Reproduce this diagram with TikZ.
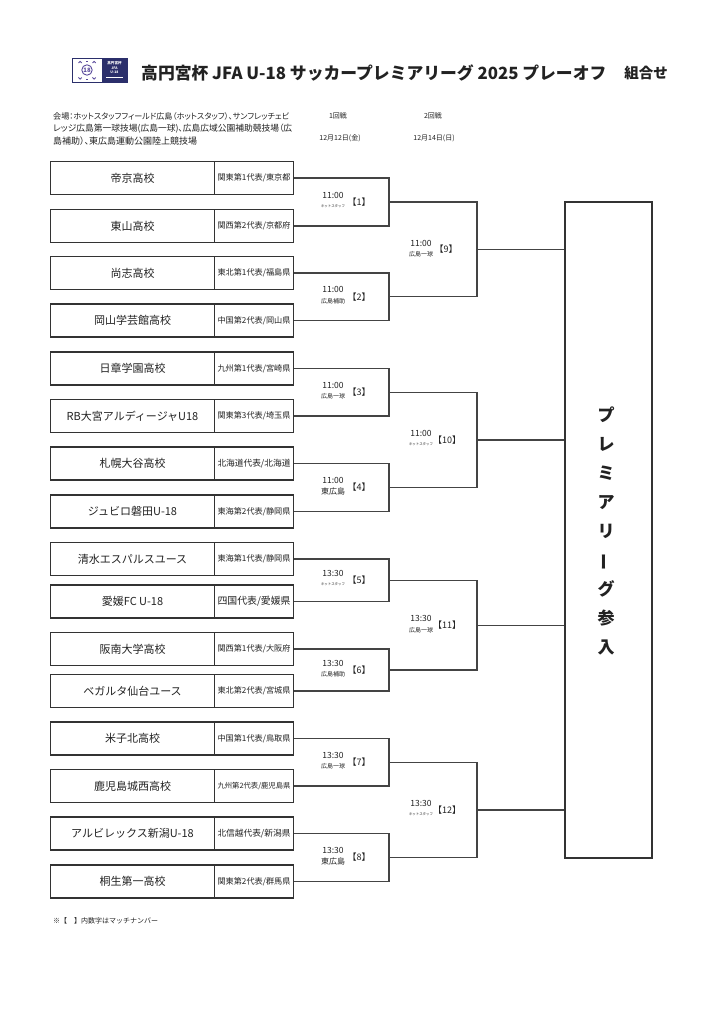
\documentclass[tikz,border=0pt]{standalone}
\usepackage{fontspec}
\setmainfont{Noto Sans CJK JP}
\newfontfamily\jpp[RawFeature=+palt]{Noto Sans CJK JP}
\definecolor{boxc}{HTML}{333333}
\definecolor{linec}{HTML}{444444}
\definecolor{txt}{HTML}{222222}
\definecolor{navy}{HTML}{2B2F6B}
\definecolor{purp}{HTML}{5A4A9C}
\newcommand{\subtxt}[1]{\resizebox{73pt}{!}{\fontsize{8}{8}\selectfont #1}}
\newcommand{\venue}[1]{\resizebox{24pt}{!}{\fontsize{6}{6}\selectfont #1}}
\begin{document}
\begin{tikzpicture}[x=1pt,y=-1pt,
 teambox/.style={draw=boxc, line width=1.3pt, minimum width=164pt, minimum height=33pt, inner sep=0pt, font=\fontsize{11}{12}\selectfont, text=txt},
 subbox/.style={draw=boxc, line width=1.3pt, minimum width=79pt, minimum height=33pt, inner sep=0pt, text=txt},
 bline/.style={draw=linec, line width=1.2pt},
 timelbl/.style={font=\fontsize{8.5}{9}\selectfont, text=txt, inner sep=0pt},
 venuelbl/.style={inner sep=0pt, text=txt},
 matchlbl/.style={font=\fontsize{9}{10}\selectfont, text=txt, inner sep=0pt},
 small/.style={font=\fontsize{7}{8}\selectfont, text=txt, inner sep=0pt},
]
\useasboundingbox[fill=white] (0,0) rectangle (724,1024);

% ---- logo ----
\draw[navy, line width=0.8pt, fill=white] (72,58) rectangle (127,82);
\fill[navy] (102,58) rectangle (127,82);
\draw[purp, line width=0.9pt] (87,70) circle (5.2);
\node[text=purp, font=\fontsize{6}{6}\selectfont\bfseries, inner sep=0pt] (l18) at (87,70.3) {18};
\draw[purp, line width=0.9pt] (78.5,63) arc (180:360:1.6) (92.5,63) arc (180:360:1.6);
\draw[purp, line width=0.9pt] (78.5,77.5) arc (180:0:1.6) (92.5,77.5) arc (180:0:1.6);
\draw[purp, line width=0.9pt] (86,61) -- (88,61) (86,79.5) -- (88,79.5);
\node[text=white, font=\fontsize{3.6}{4}\selectfont\bfseries, inner sep=0pt] (lg1) at (114.5,63.5) {高円宮杯};
\node[text=white, font=\fontsize{3.4}{4}\selectfont\bfseries, inner sep=0pt] (lg2) at (114.5,68.5) {JFA};
\node[text=white, font=\fontsize{3.4}{4}\selectfont\bfseries, inner sep=0pt] (lg3) at (114.5,72.5) {U-18};
\draw[white, line width=0.5pt] (106,77.5) -- (123,77.5);

% ---- title ----
\node[anchor=west, font=\fontsize{16.8}{18}\selectfont\bfseries, text=txt, inner sep=0pt] (title) at (141,73) {高円宮杯 JFA U-18 サッカープレミアリーグ 2025 プレーオフ};
\node[anchor=east, font=\fontsize{14.5}{16}\selectfont\bfseries, text=txt, inner sep=0pt] (kumi) at (668,73) {組合せ};

% ---- venue text ----
\node[anchor=west, inner sep=0pt, text=txt] (v1) at (53,116) {\resizebox{236pt}{!}{\jpp\fontsize{8}{8}\selectfont 会場：ホットスタッフフィールド広島（ホットスタッフ）、サンフレッチェビ}};
\node[anchor=west, inner sep=0pt, text=txt] (v2) at (53,129) {\resizebox{239pt}{!}{\jpp\fontsize{8}{8}\selectfont レッジ広島第一球技場(広島一球)、広島広域公園補助競技場（広}};
\node[anchor=west, inner sep=0pt, text=txt] (v3) at (53,141) {\resizebox{144pt}{!}{\jpp\fontsize{8}{8}\selectfont 島補助）、東広島運動公園陸上競技場}};

\node[small] (r1) at (338,116) {1回戦};
\node[small] (d1) at (340,138) {12月12日(金)};
\node[small] (r2) at (433,116) {2回戦};
\node[small] (d2) at (434,138) {12月14日(日)};

% ---- teams ----
\node[teambox] (t1) at (132.5,178) {帝京高校};
\node[subbox] (s1) at (254,178) {\subtxt{関東第1代表/東京都}};
\node[teambox] (t2) at (132.5,226) {東山高校};
\node[subbox] (s2) at (254,226) {\subtxt{関西第2代表/京都府}};
\node[teambox] (t3) at (132.5,273) {尚志高校};
\node[subbox] (s3) at (254,273) {\subtxt{東北第1代表/福島県}};
\node[teambox] (t4) at (132.5,320.5) {岡山学芸館高校};
\node[subbox] (s4) at (254,320.5) {\subtxt{中国第2代表/岡山県}};
\node[teambox] (t5) at (132.5,368.5) {日章学園高校};
\node[subbox] (s5) at (254,368.5) {\subtxt{九州第1代表/宮崎県}};
\node[teambox] (t6) at (132.5,416) {RB大宮アルディージャU18};
\node[subbox] (s6) at (254,416) {\subtxt{関東第3代表/埼玉県}};
\node[teambox] (t7) at (132.5,463.5) {札幌大谷高校};
\node[subbox] (s7) at (254,463.5) {\subtxt{北海道代表/北海道}};
\node[teambox] (t8) at (132.5,511.5) {ジュビロ磐田U-18};
\node[subbox] (s8) at (254,511.5) {\subtxt{東海第2代表/静岡県}};
\node[teambox] (t9) at (132.5,559) {清水エスパルスユース};
\node[subbox] (s9) at (254,559) {\subtxt{東海第1代表/静岡県}};
\node[teambox] (t10) at (132.5,601.5) {愛媛FC U-18};
\node[subbox] (s10) at (254,601.5) {\subtxt{四国代表/愛媛県}};
\node[teambox] (t11) at (132.5,649) {阪南大学高校};
\node[subbox] (s11) at (254,649) {\subtxt{関西第1代表/大阪府}};
\node[teambox] (t12) at (132.5,691) {ベガルタ仙台ユース};
\node[subbox] (s12) at (254,691) {\subtxt{東北第2代表/宮城県}};
\node[teambox] (t13) at (132.5,738.5) {米子北高校};
\node[subbox] (s13) at (254,738.5) {\subtxt{中国第1代表/鳥取県}};
\node[teambox] (t14) at (132.5,786) {鹿児島城西高校};
\node[subbox] (s14) at (254,786) {\subtxt{九州第2代表/鹿児島県}};
\node[teambox] (t15) at (132.5,833.5) {アルビレックス新潟U-18};
\node[subbox] (s15) at (254,833.5) {\subtxt{北信越代表/新潟県}};
\node[teambox] (t16) at (132.5,881.5) {桐生第一高校};
\node[subbox] (s16) at (254,881.5) {\subtxt{関東第2代表/群馬県}};

% ---- final box ----
\node[draw=boxc, line width=1.3pt, minimum width=87pt, minimum height=656pt, inner sep=0pt] (final) at (608.5,530) {};
\node[font=\fontsize{17}{29}\selectfont\bfseries, align=center, text=txt, inner sep=0pt] (finaltxt) at (606,531) {プ\\レ\\ミ\\ア\\リ\\\rotatebox[origin=c]{90}{ー}\\グ\\参\\入};

% ---- bracket joints ----
\coordinate (m1) at (389,202);
\coordinate (m2) at (389,296.75);
\coordinate (m3) at (389,392.25);
\coordinate (m4) at (389,487.5);
\coordinate (m5) at (389,580.25);
\coordinate (m6) at (389,670);
\coordinate (m7) at (389,762.25);
\coordinate (m8) at (389,857.5);
\coordinate (m9) at (477,249.4);
\coordinate (m10) at (477,439.9);
\coordinate (m11) at (477,625.1);
\coordinate (m12) at (477,809.9);

\draw[bline] (s1.east) -| (m1) |- (s2.east);
\draw[bline] (s3.east) -| (m2) |- (s4.east);
\draw[bline] (s5.east) -| (m3) |- (s6.east);
\draw[bline] (s7.east) -| (m4) |- (s8.east);
\draw[bline] (s9.east) -| (m5) |- (s10.east);
\draw[bline] (s11.east) -| (m6) |- (s12.east);
\draw[bline] (s13.east) -| (m7) |- (s14.east);
\draw[bline] (s15.east) -| (m8) |- (s16.east);
\draw[bline] (m1) -| (m9) |- (m2);
\draw[bline] (m3) -| (m10) |- (m4);
\draw[bline] (m5) -| (m11) |- (m6);
\draw[bline] (m7) -| (m12) |- (m8);
\draw[bline] (m9) -- (m9 -| final.west);
\draw[bline] (m10) -- (m10 -| final.west);
\draw[bline] (m11) -- (m11 -| final.west);
\draw[bline] (m12) -- (m12 -| final.west);

% ---- round 1 labels ----
\node[timelbl] (ti1) at (333,195) {11:00};
\node[venuelbl] (ve1) at (333,206) {\venue{ホットスタッフ}};
\node[matchlbl] (mn1) at (359,202) {【1】};
\node[timelbl] (ti2) at (333,289.75) {11:00};
\node[venuelbl] (ve2) at (333,300.75) {\venue{広島補助}};
\node[matchlbl] (mn2) at (359,296.75) {【2】};
\node[timelbl] (ti3) at (333,385.25) {11:00};
\node[venuelbl] (ve3) at (333,396.25) {\venue{広島一球}};
\node[matchlbl] (mn3) at (359,392.25) {【3】};
\node[timelbl] (ti4) at (333,480.5) {11:00};
\node[venuelbl] (ve4) at (333,491.5) {\venue{東広島}};
\node[matchlbl] (mn4) at (359,487.5) {【4】};
\node[timelbl] (ti5) at (333,573.25) {13:30};
\node[venuelbl] (ve5) at (333,584.25) {\venue{ホットスタッフ}};
\node[matchlbl] (mn5) at (359,580.25) {【5】};
\node[timelbl] (ti6) at (333,663) {13:30};
\node[venuelbl] (ve6) at (333,674) {\venue{広島補助}};
\node[matchlbl] (mn6) at (359,670) {【6】};
\node[timelbl] (ti7) at (333,755.25) {13:30};
\node[venuelbl] (ve7) at (333,766.25) {\venue{広島一球}};
\node[matchlbl] (mn7) at (359,762.25) {【7】};
\node[timelbl] (ti8) at (333,850.5) {13:30};
\node[venuelbl] (ve8) at (333,861.5) {\venue{東広島}};
\node[matchlbl] (mn8) at (359,857.5) {【8】};

% ---- round 2 labels ----
\node[timelbl] (ti9) at (421,243) {11:00};
\node[venuelbl] (ve9) at (421,254.5) {\venue{広島一球}};
\node[matchlbl] (mn9) at (446,249.4) {【9】};
\node[timelbl] (ti10) at (421,433) {11:00};
\node[venuelbl] (ve10) at (421,444.5) {\venue{ホットスタッフ}};
\node[matchlbl] (mn10) at (447,439.9) {【10】};
\node[timelbl] (ti11) at (421,618.5) {13:30};
\node[venuelbl] (ve11) at (421,630) {\venue{広島一球}};
\node[matchlbl] (mn11) at (447,625.1) {【11】};
\node[timelbl] (ti12) at (421,803) {13:30};
\node[venuelbl] (ve12) at (421,814.5) {\venue{ホットスタッフ}};
\node[matchlbl] (mn12) at (447,809.9) {【12】};

% ---- footnote ----
\node[anchor=west, small] (foot) at (53,921) {※【　】内数字はマッチナンバー};
\end{tikzpicture}
\end{document}
